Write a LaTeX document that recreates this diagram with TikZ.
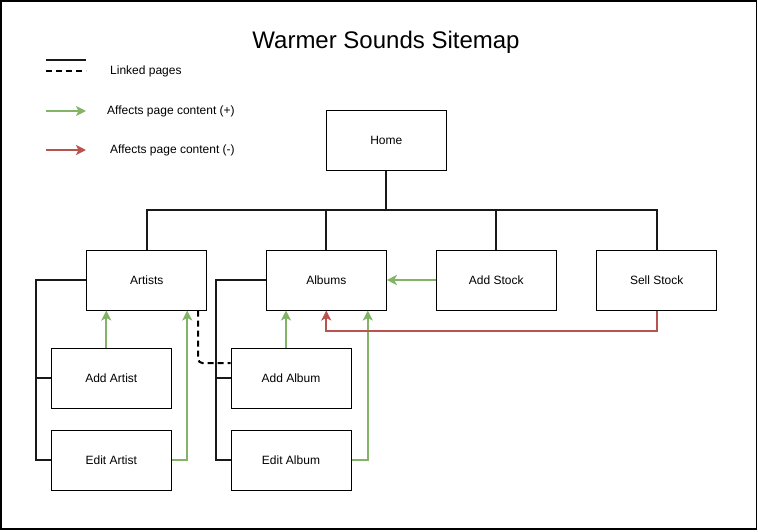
\documentclass[tikz,border=0pt]{standalone}
\usepackage{fontspec}
\setmainfont{Liberation Sans}
\usetikzlibrary{arrows.meta}
\usetikzlibrary{positioning}

\definecolor{plusgreen}{HTML}{82B366}
\definecolor{minusred}{HTML}{B85450}

\tikzset{
	page node/.style={rectangle,draw=black,line width=1pt,minimum width=120pt,minimum height=60pt,inner sep=0,font=\fontsize{12}{14}\selectfont},
	key node/.style={anchor=west,inner sep=0,font=\fontsize{12}{14}\selectfont},
	link/.style={line width=2pt,draw=black!90},
	linked/.style={line width=2pt,dash pattern=on 6pt off 4pt},
	plus/.style={line width=2pt,draw=plusgreen,-{Stealth[length=10pt,width=10pt,inset=2.5pt]}},
	minus/.style={line width=2pt,draw=minusred,-{Stealth[length=10pt,width=10pt,inset=2.5pt]}}
}

\begin{document}
\begin{tikzpicture}[x=1pt,y=-1pt]
 \useasboundingbox (0,0) rectangle (758,531);
 \draw[line width=1.5pt] (0.75,0.75) rectangle (756.5,529);

 \node (title) at (386,42) {\fontsize{24}{28}\selectfont Warmer Sounds Sitemap};

 % key
 \coordinate (k1a) at (46,60);   \coordinate (k1b) at (86,60);
 \coordinate (k2a) at (46,71);   \coordinate (k2b) at (86,71);
 \coordinate (k3a) at (46,111);  \coordinate (k3b) at (86,111);
 \coordinate (k4a) at (46,150);  \coordinate (k4b) at (86,150);
 \node[key node] (klink) at (110,71) {Linked pages};
 \node[key node] (kplus) at (107,111) {Affects page content (+)};
 \node[key node] (kminus) at (110,150) {Affects page content (-)};
 \draw[link] (k1a) -- (k1b);
 \draw[linked] (k2a) -- (k2b);
 \draw[plus] (k3a) -- (k3b);
 \draw[minus] (k4a) -- (k4b);

 % pages
 \node[page node] (H) at (386.3,140) {Home};
 \node[page node] (ar) at (146.7,280) {Artists};
 \node[page node] (al) at (326.3,280) {Albums};
 \node[page node] (as) at (496.3,280) {Add Stock};
 \node[page node] (ss) at (656.7,280) {Sell Stock};
 \node[page node] (aa) at (111.3,378) {Add Artist};
 \node[page node] (ea) at (111.3,460) {Edit Artist};
 \node[page node] (ab) at (291,378) {Add Album};
 \node[page node] (eb) at (291,460) {Edit Album};

 \coordinate (bus) at (386.3,210);
 \coordinate (arrail) at (36,280);
 \coordinate (alrail) at (216,280);

 % links
 \draw[link] (H) -- (bus);
 \draw[link] (bus) -| (ar);
 \draw[link] (bus) -| (al);
 \draw[link] (bus) -| (as);
 \draw[link] (bus) -| (ss);
 \draw[link] (ar) -- (arrail) |- (ea);
 \draw[link] (arrail |- aa) -- (aa);
 \draw[link] (al) -- (alrail) |- (eb);
 \draw[link] (alrail |- ab) -- (ab);
 \draw[linked,rounded corners=4pt] ([xshift=-9pt]ar.south east) |- ([yshift=15pt]ab.west);

 % content
 \draw[plus] ([xshift=-5pt]aa.north) -- ([xshift=-5pt]aa.north |- ar.south);
 \draw[plus] (ea) -| ([xshift=-20pt]ar.south east);
 \draw[plus] ([xshift=-5pt]ab.north) -- ([xshift=-5pt]ab.north |- al.south);
 \draw[plus] (eb) -| ([xshift=-19pt]al.south east);
 \draw[plus] (as) -- (al);
 \draw[minus] (ss.south) -- ++(0,20) -| (al.south);
\end{tikzpicture}
\end{document}
